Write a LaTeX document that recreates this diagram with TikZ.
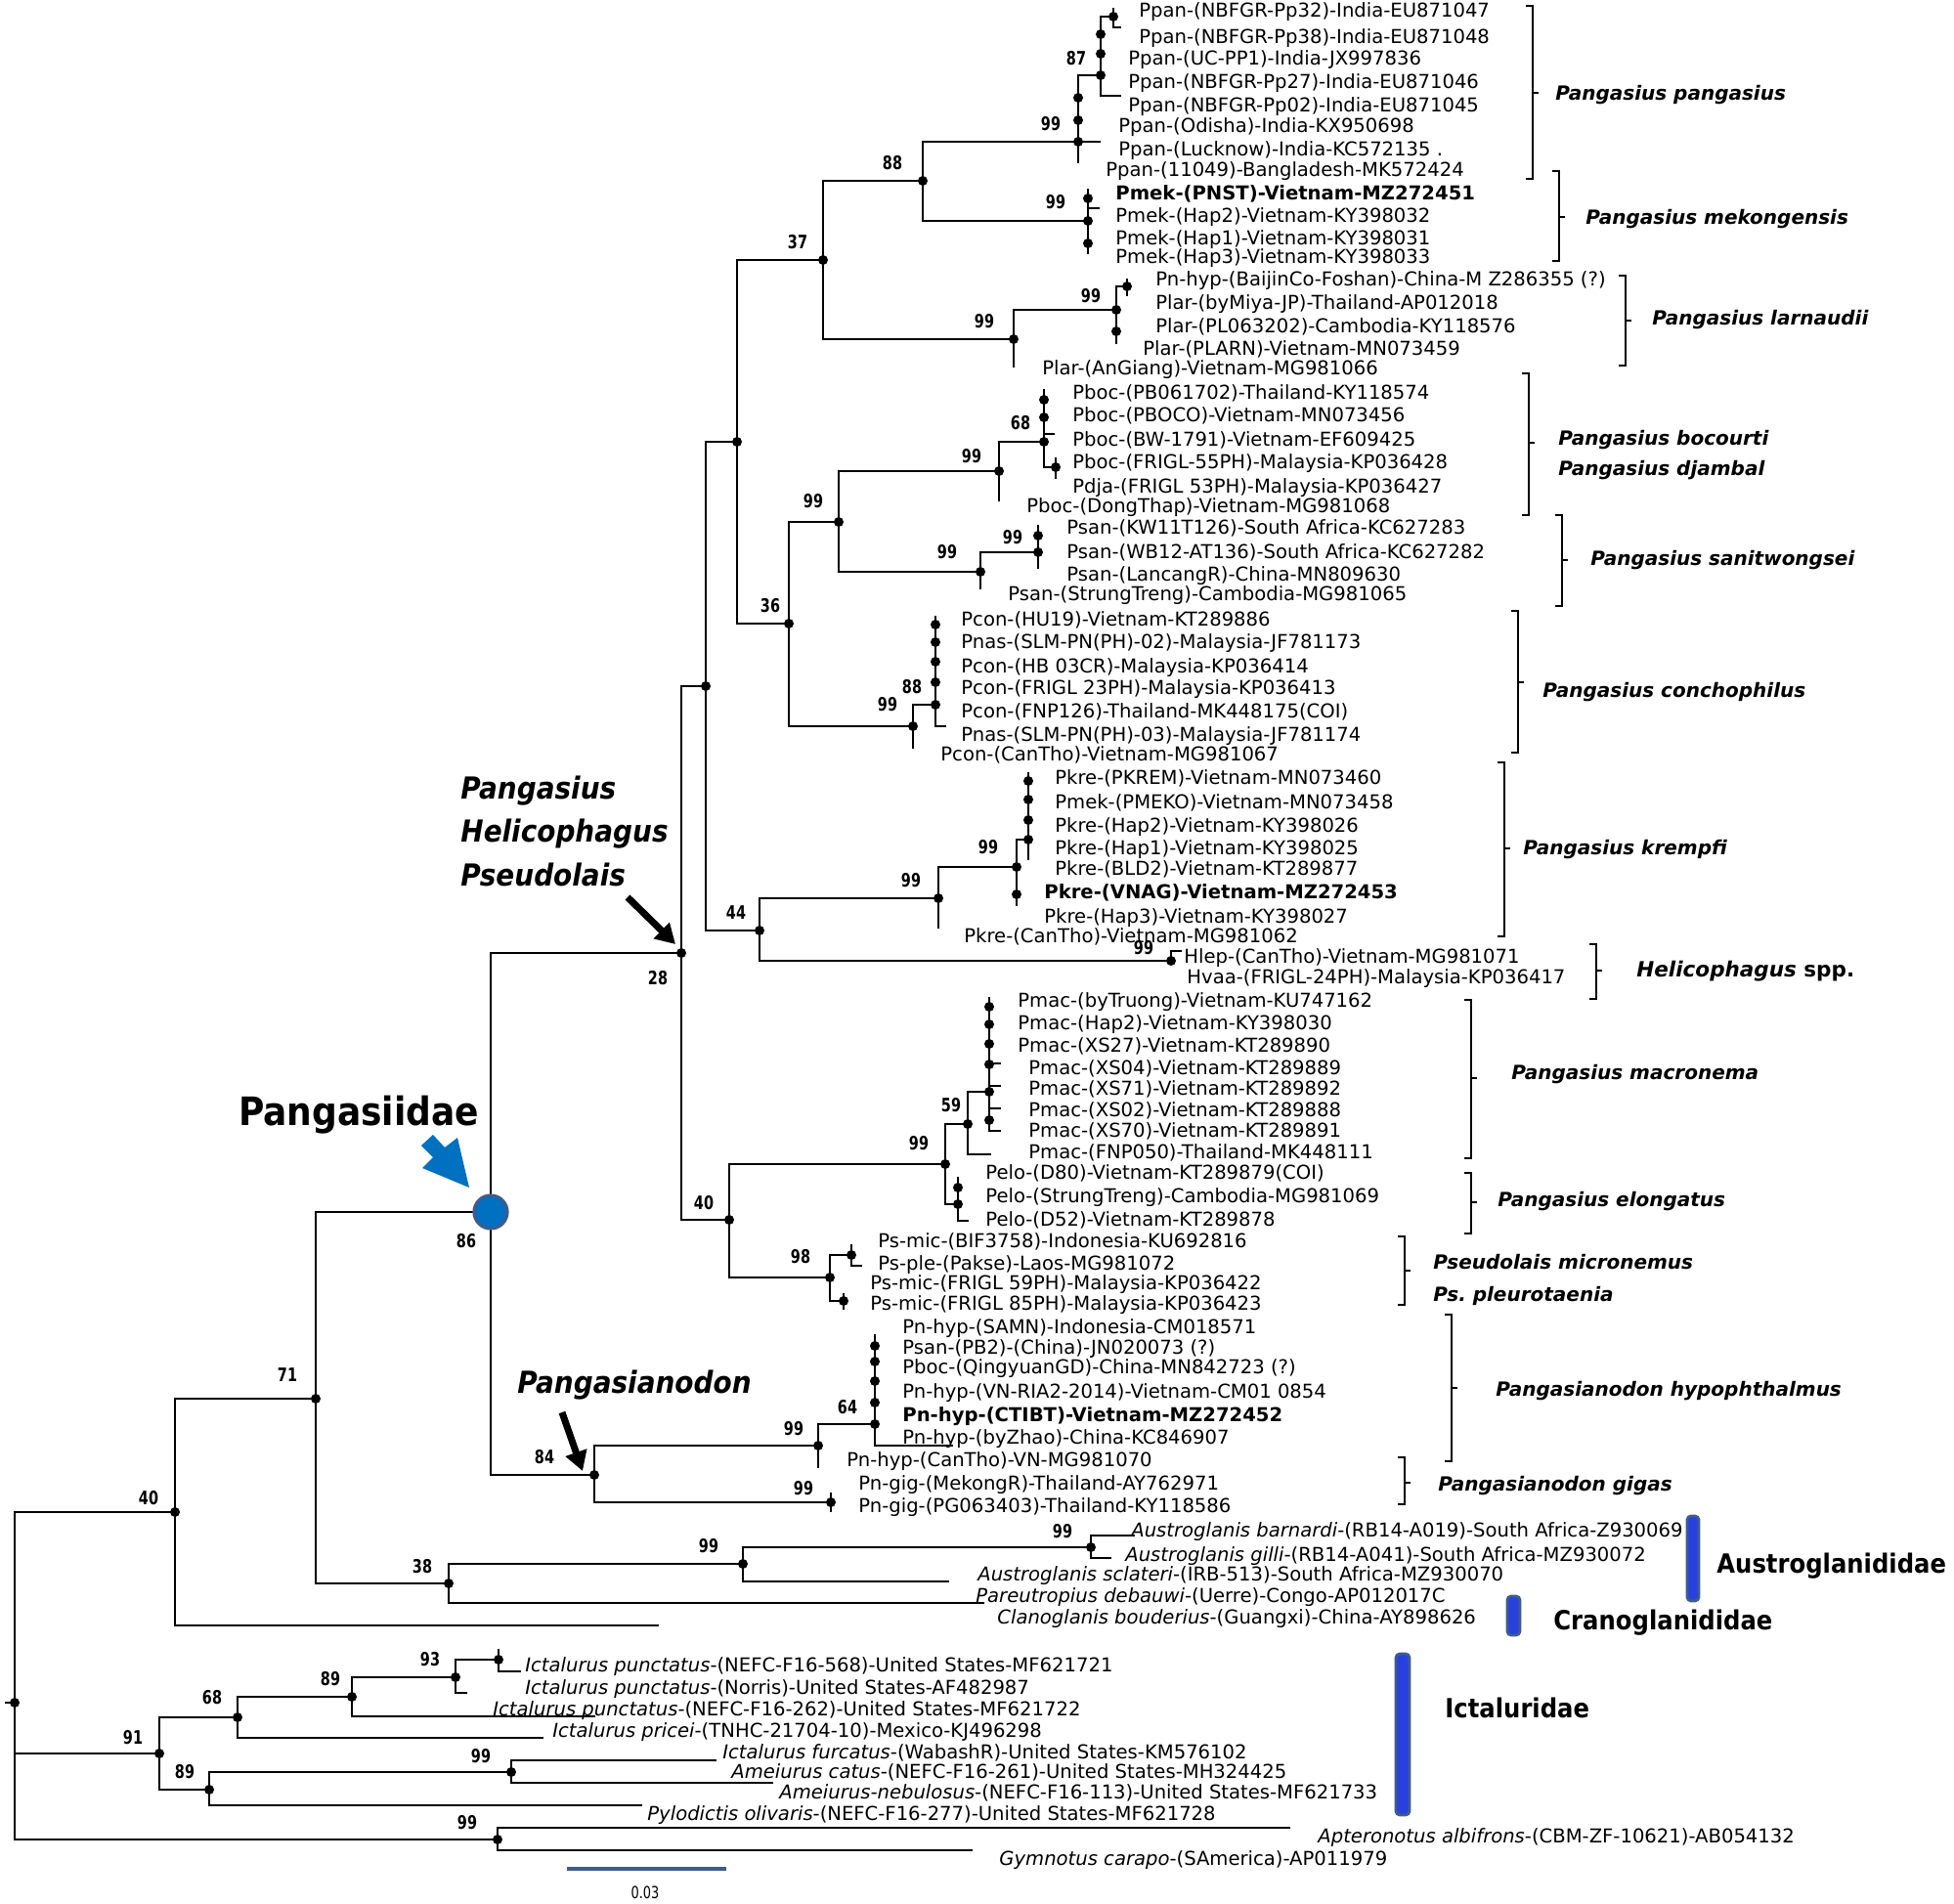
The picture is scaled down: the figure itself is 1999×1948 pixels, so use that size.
\documentclass[tikz,border=0pt]{standalone}
\usepackage{fontspec}
\setmainfont{DejaVu Sans}
\newfontfamily\bootfont[FakeStretch=0.76]{DejaVu Sans}
\newfontfamily\headfont[FakeStretch=0.9]{DejaVu Sans}
\usetikzlibrary{arrows.meta}

\definecolor{pangblue}{RGB}{0,112,192}
\definecolor{edgeblue}{RGB}{62,92,140}
\definecolor{barblue}{RGB}{40,64,224}

\newcommand{\grpbracket}[4]{% x, top, mid, bottom
  \draw[brk] (#1-7,#2) -- (#1,#2) -- (#1,#4) -- (#1-7,#4);
  \draw[brk] (#1,#3) -- (#1+6,#3);}

\begin{document}
\begin{tikzpicture}[x=0.5pt,y=-0.5pt,
    branch/.style={line width=1.35pt},
    dot/.style={circle,fill=black,inner sep=0pt,minimum size=5pt},
    pangnode/.style={circle,fill=pangblue,draw=edgeblue,line width=1.6pt,inner sep=0pt,minimum size=17pt},
    boot/.style={inner sep=0pt,font=\bootfont\bfseries\fontsize{9.5}{10}\selectfont,text height=6.9pt,text depth=0pt},
    tip/.style={anchor=west,inner sep=0pt,font=\fontsize{9.8}{11}\selectfont,text height=7.1pt,text depth=0pt},
    grp/.style={anchor=west,inner sep=0pt,font=\bfseries\itshape\fontsize{10}{12}\selectfont,text height=7.3pt,text depth=0pt},
    head/.style={anchor=west,inner sep=0pt,font=\headfont\bfseries\itshape\fontsize{15.5}{18}\selectfont,text height=11.3pt,text depth=0pt},
    fam/.style={anchor=west,inner sep=0pt,font=\headfont\bfseries\fontsize{13.5}{15}\selectfont,text height=9.8pt,text depth=0pt},
    brk/.style={line width=1.4pt},
    fambar/.style={draw=edgeblue,fill=barblue,line width=1.4pt,rounded corners=2pt},
    pointer/.style={line width=3.5pt,-{Triangle[length=10pt,width=11pt]}}
]
\useasboundingbox (0,0) rectangle (1999,1948);

% root and outgroups
\node[dot] (root) at (15,1742) {};
\coordinate (rootstub) at (5,1742);
\node[dot] (n40a) at (179,1547) {};
\node[dot] (n91) at (163,1794) {};
\node[dot] (n99g) at (509,1882) {};
\draw[branch] (rootstub) -- (root.center);
\draw[branch] (root.center) |- (n40a.center);
\draw[branch] (root.center) |- (n91.center);
\draw[branch] (root.center) |- (n99g.center);

\node[dot] (n71) at (323,1431) {};
\coordinate (e73) at (674,1663);
\draw[branch] (n40a.center) |- (n71.center);
\draw[branch] (n40a.center) |- (e73);
\coordinate (pang) at (502,1240);
\node[dot] (n38) at (459,1620) {};
\draw[branch] (n71.center) |- (pang);
\draw[branch] (n71.center) |- (n38.center);
\node[dot] (n99au) at (760,1600) {};
\coordinate (e72) at (1007,1640);
\draw[branch] (n38.center) |- (n99au.center);
\draw[branch] (n38.center) |- (e72);
\node[dot] (n99ab) at (1116,1583) {};
\coordinate (e71) at (971,1618);
\draw[branch] (n99au.center) |- (n99ab.center);
\draw[branch] (n99au.center) |- (e71);
\coordinate (e69) at (1161,1571);
\coordinate (e70) at (1137,1594);
\draw[branch] (n99ab.center) |- (e69);
\draw[branch] (n99ab.center) |- (e70);

% Ictaluridae
\node[dot] (n68a) at (243,1757) {};
\node[dot] (n89b) at (214,1831) {};
\draw[branch] (n91.center) |- (n68a.center);
\draw[branch] (n91.center) |- (n89b.center);
\node[dot] (n89a) at (360,1736) {};
\coordinate (e77) at (556,1778);
\draw[branch] (n68a.center) |- (n89a.center);
\draw[branch] (n68a.center) |- (e77);
\node[dot] (n93) at (466,1716) {};
\coordinate (e76) at (609,1756);
\draw[branch] (n89a.center) |- (n93.center);
\draw[branch] (n89a.center) |- (e76);
\node[dot] (n93a) at (510,1698) {};
\coordinate (e75) at (478,1732);
\draw[branch] (n93.center) |- (n93a.center);
\draw[branch] (n93.center) |- (e75);
\coordinate (e74u) at (510,1687);
\coordinate (e74) at (533,1710);
\draw[branch] (e74u) -- (n93a.center) |- (e74);
\node[dot] (n99c) at (523,1813) {};
\coordinate (e81) at (657,1847);
\draw[branch] (n89b.center) |- (n99c.center);
\draw[branch] (n89b.center) |- (e81);
\coordinate (e78) at (733,1801);
\coordinate (e79) at (791,1824);
\draw[branch] (n99c.center) |- (e78);
\draw[branch] (n99c.center) |- (e79);
\coordinate (e82) at (1320,1870);
\coordinate (e83) at (995,1893);
\draw[branch] (n99g.center) |- (e82);
\draw[branch] (n99g.center) |- (e83);

% Pangasiidae
\node[dot] (n28) at (697,975) {};
\node[dot] (n84) at (608,1509) {};
\draw[branch] (pang) |- (n28.center);
\draw[branch] (pang) |- (n84.center);
\node[dot] (nX) at (722,702) {};
\node[dot] (n40b) at (746,1248) {};
\draw[branch] (n28.center) |- (nX.center);
\draw[branch] (n28.center) |- (n40b.center);
\node[dot] (nY) at (754,452) {};
\node[dot] (n44) at (777,952) {};
\draw[branch] (nX.center) |- (nY.center);
\draw[branch] (nX.center) |- (n44.center);
\node[dot] (n37) at (842,266) {};
\node[dot] (n36) at (807,638) {};
\draw[branch] (nY.center) |- (n37.center);
\draw[branch] (nY.center) |- (n36.center);
\node[dot] (n88a) at (944,185) {};
\node[dot] (n99pl) at (1037,347) {};
\draw[branch] (n37.center) |- (n88a.center);
\draw[branch] (n37.center) |- (n99pl.center);
\node[dot] (n99pp) at (1103,145) {};
\node[dot] (n99mk) at (1113,226) {};
\draw[branch] (n88a.center) |- (n99pp.center);
\draw[branch] (n88a.center) |- (n99mk.center);

% P. pangasius
\node[dot] (n87) at (1126,77) {};
\coordinate (e06) at (1126,145);
\coordinate (e08) at (1103,167);
\draw[branch] (n99pp.center) |- (n87.center);
\draw[branch] (n99pp.center) -- (e06);
\draw[branch] (n99pp.center) -- (e08);
\foreach \y in {100,123} \node[dot] (pp\y) at (1103,\y) {};
\coordinate (p87t) at (1126,18);
\coordinate (e05) at (1147,98);
\node[dot] (nP1) at (1139,17) {};
\draw[branch] (n87.center) |- (e05);
\draw[branch] (n87.center) |- (nP1.center);
\draw[branch] (1139,8) -- (nP1.center) |- (1147,28);
\foreach \y in {35,55} \node[dot] (pa\y) at (1126,\y) {};

% P. mekongensis
\draw[branch] (1113,193) -- (n99mk.center) -- (1113,260);
\draw[branch] (1113,213) -- (1125,213);
\foreach \y in {203,249} \node[dot] (mk\y) at (1113,\y) {};

% P. larnaudii
\node[dot] (n99pl2) at (1142,317) {};
\coordinate (e17) at (1037,376);
\draw[branch] (n99pl.center) |- (n99pl2.center);
\draw[branch] (n99pl.center) -- (e17);
\node[dot] (nLa) at (1153,293) {};
\draw[branch] (1142,352) -- (n99pl2.center) |- (nLa.center);
\draw[branch] (1153,285) -- (1153,303);
\node[dot] (la339) at (1142,339) {};

% P. bocourti, P. sanitwongsei, P. conchophilus
\node[dot] (n99bs) at (858,534) {};
\node[dot] (n99co) at (934,743) {};
\draw[branch] (n36.center) |- (n99bs.center);
\draw[branch] (n36.center) |- (n99co.center);
\node[dot] (n99bo) at (1022,482) {};
\node[dot] (n99sa) at (1003,585) {};
\draw[branch] (n99bs.center) |- (n99bo.center);
\draw[branch] (n99bs.center) |- (n99sa.center);
\node[dot] (n68b) at (1068,452) {};
\coordinate (e23) at (1022,513);
\draw[branch] (n99bo.center) |- (n68b.center);
\draw[branch] (n99bo.center) -- (e23);
\node[dot] (nBo) at (1080,478) {};
\draw[branch] (1068,398) -- (n68b.center) |- (nBo.center);
\draw[branch] (1068,444) -- (1079,444);
\draw[branch] (1080,468) -- (1080,490);
\foreach \y in {409,427} \node[dot] (bo\y) at (1068,\y) {};
\node[dot] (n99sa2) at (1062,565) {};
\coordinate (e27) at (1003,603);
\draw[branch] (n99sa.center) |- (n99sa2.center);
\draw[branch] (n99sa.center) -- (e27);
\draw[branch] (1062,537) -- (1062,582);
\node[dot] (sa548) at (1062,548) {};
\node[dot] (n88c) at (957,721) {};
\coordinate (e34) at (934,766);
\draw[branch] (n99co.center) |- (n88c.center);
\draw[branch] (n99co.center) -- (e34);
\draw[branch] (957,630) -- (957,743) -- (968,743);
\foreach \y in {639,657,677,698} \node[dot] (co\y) at (957,\y) {};

% P. krempfi and Helicophagus
\node[dot] (n99k) at (960,919) {};
\node[dot] (n99h) at (1198,983) {};
\draw[branch] (n44.center) |- (n99k.center);
\draw[branch] (n44.center) |- (n99h.center);
\draw[branch] (n99h.center) |- (1209,973);
\node[dot] (n99k2) at (1040,887) {};
\coordinate (e42) at (960,950);
\draw[branch] (n99k.center) |- (n99k2.center);
\draw[branch] (n99k.center) -- (e42);
\node[dot] (nKr) at (1052,859) {};
\draw[branch] (1040,927) -- (n99k2.center) |- (nKr.center);
\draw[branch] (1052,790) -- (1052,880);
\node[dot] (kr915) at (1040,915) {};
\foreach \y in {799,818,839} \node[dot] (kr\y) at (1052,\y) {};

% P. macronema, P. elongatus, Pseudolais
\node[dot] (n99m) at (967,1191) {};
\node[dot] (n98) at (849,1307) {};
\draw[branch] (n40b.center) |- (n99m.center);
\draw[branch] (n40b.center) |- (n98.center);
\node[dot] (n59) at (990,1150) {};
\node[dot] (nPe) at (980,1232) {};
\draw[branch] (n99m.center) |- (n59.center);
\draw[branch] (n99m.center) |- (nPe.center);
\node[dot] (nMa) at (1012,1117) {};
\coordinate (e52) at (1014,1181);
\draw[branch] (n59.center) |- (nMa.center);
\draw[branch] (n59.center) |- (e52);
\draw[branch] (1012,1020) -- (1012,1157) -- (1024,1157);
\foreach \y in {1088,1111,1134} \draw[branch] (1012,\y) -- (1024,\y);
\foreach \y in {1030,1048,1068,1089,1146} \node[dot] (ma\y) at (1012,\y) {};
\draw[branch] (980,1204) -- (nPe.center) |- (991,1249);
\node[dot] (pe1215) at (980,1215) {};
\node[dot] (nPs1) at (871,1284) {};
\node[dot] (nPs2) at (863,1331) {};
\draw[branch] (n98.center) |- (nPs1.center);
\draw[branch] (n98.center) |- (nPs2.center);
\draw[branch] (871,1273) -- (nPs1.center) |- (882,1295);
\draw[branch] (863,1323) -- (863,1340);

% Pangasianodon
\node[dot] (n99hy) at (837,1479) {};
\node[dot] (n99gi) at (850,1537) {};
\draw[branch] (n84.center) |- (n99hy.center);
\draw[branch] (n84.center) |- (n99gi.center);
\node[dot] (n64) at (895,1457) {};
\coordinate (e66) at (837,1502);
\draw[branch] (n99hy.center) |- (n64.center);
\draw[branch] (n99hy.center) -- (e66);
\draw[branch] (895,1365) -- (895,1479) -- (975,1479);
\foreach \y in {1377,1393,1413,1435} \node[dot] (hy\y) at (895,\y) {};
\draw[branch] (850,1527) -- (850,1547);

\node[pangnode] (pangc) at (pang) {};

% bootstrap values
\node[boot] (b01) at (152,1533) {40};
\node[boot] (b02) at (136,1778) {91};
\node[boot] (b03) at (478,1865) {99};
\node[boot] (b04) at (294,1407) {71};
\node[boot] (b05) at (477,1270) {86};
\node[boot] (b06) at (432,1603) {38};
\node[boot] (b07) at (725,1582) {99};
\node[boot] (b08) at (1087,1567) {99};
\node[boot] (b09) at (217,1737) {68};
\node[boot] (b10) at (189,1813) {89};
\node[boot] (b11) at (338,1718) {89};
\node[boot] (b12) at (440,1698) {93};
\node[boot] (b13) at (492,1797) {99};
\node[boot] (b14) at (673,1001) {28};
\node[boot] (b15) at (753,934) {44};
\node[boot] (b16) at (816,248) {37};
\node[boot] (b17) at (913,167) {88};
\node[boot] (b18) at (1075,127) {99};
\node[boot] (b19) at (1101,60) {87};
\node[boot] (b20) at (1080,207) {99};
\node[boot] (b21) at (1007,329) {99};
\node[boot] (b22) at (1116,303) {99};
\node[boot] (b23) at (788,620) {36};
\node[boot] (b24) at (832,513) {99};
\node[boot] (b25) at (994,467) {99};
\node[boot] (b26) at (1044,433) {68};
\node[boot] (b27) at (969,565) {99};
\node[boot] (b28) at (1036,550) {99};
\node[boot] (b29) at (908,721) {99};
\node[boot] (b30) at (933,703) {88};
\node[boot] (b31) at (932,901) {99};
\node[boot] (b32) at (1011,867) {99};
\node[boot] (b33) at (1170,970) {99};
\node[boot] (b34) at (720,1231) {40};
\node[boot] (b35) at (940,1170) {99};
\node[boot] (b36) at (973,1131) {59};
\node[boot] (b37) at (819,1286) {98};
\node[boot] (b38) at (557,1491) {84};
\node[boot] (b39) at (812,1462) {99};
\node[boot] (b40) at (867,1440) {64};
\node[boot] (b41) at (822,1523) {99};

% tip labels
\node[tip] (t01) at (1165,10) {Ppan-(NBFGR-Pp32)-India-EU871047};
\node[tip] (t02) at (1165,37) {Ppan-(NBFGR-Pp38)-India-EU871048};
\node[tip] (t03) at (1154,59) {Ppan-(UC-PP1)-India-JX997836};
\node[tip] (t04) at (1154,83) {Ppan-(NBFGR-Pp27)-India-EU871046};
\node[tip] (t05) at (1154,107) {Ppan-(NBFGR-Pp02)-India-EU871045};
\node[tip] (t06) at (1144,128) {Ppan-(Odisha)-India-KX950698};
\node[tip] (t07) at (1144,152) {Ppan-(Lucknow)-India-KC572135 .};
\node[tip] (t08) at (1131,173) {Ppan-(11049)-Bangladesh-MK572424};
\node[tip] (t09) at (1141,197) {\textbf{Pmek-(PNST)-Vietnam-MZ272451}};
\node[tip] (t10) at (1141,220) {Pmek-(Hap2)-Vietnam-KY398032};
\node[tip] (t11) at (1141,243) {Pmek-(Hap1)-Vietnam-KY398031};
\node[tip] (t12) at (1141,262) {Pmek-(Hap3)-Vietnam-KY398033};
\node[tip] (t13) at (1182,285) {Pn-hyp-(BaijinCo-Foshan)-China-M Z286355 (?)};
\node[tip] (t14) at (1182,309) {Plar-(byMiya-JP)-Thailand-AP012018};
\node[tip] (t15) at (1182,333) {Plar-(PL063202)-Cambodia-KY118576};
\node[tip] (t16) at (1169,356) {Plar-(PLARN)-Vietnam-MN073459};
\node[tip] (t17) at (1066,376) {Plar-(AnGiang)-Vietnam-MG981066};
\node[tip] (t18) at (1097,401) {Pboc-(PB061702)-Thailand-KY118574};
\node[tip] (t19) at (1097,424) {Pboc-(PBOCO)-Vietnam-MN073456};
\node[tip] (t20) at (1097,449) {Pboc-(BW-1791)-Vietnam-EF609425};
\node[tip] (t21) at (1097,472) {Pboc-(FRIGL-55PH)-Malaysia-KP036428};
\node[tip] (t22) at (1097,497) {Pdja-(FRIGL 53PH)-Malaysia-KP036427};
\node[tip] (t23) at (1050,517) {Pboc-(DongThap)-Vietnam-MG981068};
\node[tip] (t24) at (1091,539) {Psan-(KW11T126)-South Africa-KC627283};
\node[tip] (t25) at (1091,564) {Psan-(WB12-AT136)-South Africa-KC627282};
\node[tip] (t26) at (1091,587) {Psan-(LancangR)-China-MN809630};
\node[tip] (t27) at (1031,607) {Psan-(StrungTreng)-Cambodia-MG981065};
\node[tip] (t28) at (983,633) {Pcon-(HU19)-Vietnam-KT289886};
\node[tip] (t29) at (983,656) {Pnas-(SLM-PN(PH)-02)-Malaysia-JF781173};
\node[tip] (t30) at (983,681) {Pcon-(HB 03CR)-Malaysia-KP036414};
\node[tip] (t31) at (983,703) {Pcon-(FRIGL 23PH)-Malaysia-KP036413};
\node[tip] (t32) at (983,727) {Pcon-(FNP126)-Thailand-MK448175(COI)};
\node[tip] (t33) at (983,751) {Pnas-(SLM-PN(PH)-03)-Malaysia-JF781174};
\node[tip] (t34) at (962,771) {Pcon-(CanTho)-Vietnam-MG981067};
\node[tip] (t35) at (1079,795) {Pkre-(PKREM)-Vietnam-MN073460};
\node[tip] (t36) at (1079,820) {Pmek-(PMEKO)-Vietnam-MN073458};
\node[tip] (t37) at (1079,844) {Pkre-(Hap2)-Vietnam-KY398026};
\node[tip] (t38) at (1079,867) {Pkre-(Hap1)-Vietnam-KY398025};
\node[tip] (t39) at (1079,888) {Pkre-(BLD2)-Vietnam-KT289877};
\node[tip] (t40) at (1068,912) {\textbf{Pkre-(VNAG)-Vietnam-MZ272453}};
\node[tip] (t41) at (1068,937) {Pkre-(Hap3)-Vietnam-KY398027};
\node[tip] (t42) at (986,957) {Pkre-(CanTho)-Vietnam-MG981062};
\node[tip] (t43) at (1211,978) {Hlep-(CanTho)-Vietnam-MG981071};
\node[tip] (t44) at (1214,999) {Hvaa-(FRIGL-24PH)-Malaysia-KP036417};
\node[tip] (t45) at (1041,1023) {Pmac-(byTruong)-Vietnam-KU747162};
\node[tip] (t46) at (1041,1046) {Pmac-(Hap2)-Vietnam-KY398030};
\node[tip] (t47) at (1041,1069) {Pmac-(XS27)-Vietnam-KT289890};
\node[tip] (t48) at (1052,1092) {Pmac-(XS04)-Vietnam-KT289889};
\node[tip] (t49) at (1052,1113) {Pmac-(XS71)-Vietnam-KT289892};
\node[tip] (t50) at (1052,1135) {Pmac-(XS02)-Vietnam-KT289888};
\node[tip] (t51) at (1052,1156) {Pmac-(XS70)-Vietnam-KT289891};
\node[tip] (t52) at (1052,1178) {Pmac-(FNP050)-Thailand-MK448111};
\node[tip] (t53) at (1008,1199) {Pelo-(D80)-Vietnam-KT289879(COI)};
\node[tip] (t54) at (1008,1223) {Pelo-(StrungTreng)-Cambodia-MG981069};
\node[tip] (t55) at (1008,1247) {Pelo-(D52)-Vietnam-KT289878};
\node[tip] (t56) at (898,1269) {Ps-mic-(BIF3758)-Indonesia-KU692816};
\node[tip] (t57) at (898,1292) {Ps-ple-(Pakse)-Laos-MG981072};
\node[tip] (t58) at (890,1312) {Ps-mic-(FRIGL 59PH)-Malaysia-KP036422};
\node[tip] (t59) at (890,1333) {Ps-mic-(FRIGL 85PH)-Malaysia-KP036423};
\node[tip] (t60) at (923,1357) {Pn-hyp-(SAMN)-Indonesia-CM018571};
\node[tip] (t61) at (923,1378) {Psan-(PB2)-(China)-JN020073 (?)};
\node[tip] (t62) at (923,1398) {Pboc-(QingyuanGD)-China-MN842723 (?)};
\node[tip] (t63) at (923,1423) {Pn-hyp-(VN-RIA2-2014)-Vietnam-CM01 0854};
\node[tip] (t64) at (923,1447) {\textbf{Pn-hyp-(CTIBT)-Vietnam-MZ272452}};
\node[tip] (t65) at (923,1470) {Pn-hyp-(byZhao)-China-KC846907};
\node[tip] (t66) at (866,1493) {Pn-hyp-(CanTho)-VN-MG981070};
\node[tip] (t67) at (878,1517) {Pn-gig-(MekongR)-Thailand-AY762971};
\node[tip] (t68) at (878,1540) {Pn-gig-(PG063403)-Thailand-KY118586};
\node[tip] (t69) at (1157,1565) {\textit{Austroglanis barnardi}-(RB14-A019)-South Africa-Z930069};
\node[tip] (t70) at (1151,1590) {\textit{Austroglanis gilli}-(RB14-A041)-South Africa-MZ930072};
\node[tip] (t71) at (1000,1610) {\textit{Austroglanis sclateri}-(IRB-513)-South Africa-MZ930070};
\node[tip] (t72) at (998,1632) {\textit{Pareutropius debauwi}-(Uerre)-Congo-AP012017C};
\node[tip] (t73) at (1020,1654) {\textit{Clanoglanis bouderius}-(Guangxi)-China-AY898626};
\node[tip] (t74) at (537,1703) {\textit{Ictalurus punctatus}-(NEFC-F16-568)-United States-MF621721};
\node[tip] (t75) at (537,1726) {\textit{Ictalurus punctatus}-(Norris)-United States-AF482987};
\node[tip] (t76) at (504,1748) {\textit{Ictalurus punctatus}-(NEFC-F16-262)-United States-MF621722};
\node[tip] (t77) at (565,1770) {\textit{Ictalurus pricei}-(TNHC-21704-10)-Mexico-KJ496298};
\node[tip] (t78) at (739,1792) {\textit{Ictalurus furcatus}-(WabashR)-United States-KM576102};
\node[tip] (t79) at (748,1812) {\textit{Ameiurus catus}-(NEFC-F16-261)-United States-MH324425};
\node[tip] (t80) at (797,1833) {\textit{Ameiurus-nebulosus}-(NEFC-F16-113)-United States-MF621733};
\node[tip] (t81) at (662,1855) {\textit{Pylodictis olivaris}-(NEFC-F16-277)-United States-MF621728};
\node[tip] (t82) at (1348,1878) {\textit{Apteronotus albifrons}-(CBM-ZF-10621)-AB054132};
\node[tip] (t83) at (1022,1901) {\textit{Gymnotus carapo}-(SAmerica)-AP011979};

% species groups
\grpbracket{1568}{6}{95}{183}
\grpbracket{1595}{175}{222}{267}
\grpbracket{1663}{282}{328}{374}
\grpbracket{1564}{382}{453}{527}
\grpbracket{1598}{527}{573}{620}
\grpbracket{1553}{625}{698}{770}
\grpbracket{1539}{780}{868}{958}
\grpbracket{1633}{966}{993}{1022}
\grpbracket{1505}{1023}{1103}{1185}
\grpbracket{1505}{1200}{1230}{1262}
\grpbracket{1437}{1265}{1300}{1335}
\grpbracket{1485}{1345}{1420}{1495}
\grpbracket{1437}{1491}{1517}{1539}
\node[grp] (gPan) at (1591,95) {Pangasius pangasius};
\node[grp] (gMek) at (1622,222) {Pangasius mekongensis};
\node[grp] (gLar) at (1690,325) {Pangasius larnaudii};
\node[grp] (gBoc) at (1594,448) {Pangasius bocourti};
\node[grp] (gDja) at (1594,479) {Pangasius djambal};
\node[grp] (gSan) at (1627,571) {Pangasius sanitwongsei};
\node[grp] (gCon) at (1578,706) {Pangasius conchophilus};
\node[grp] (gKre) at (1558,867) {Pangasius krempfi};
\node[grp,font=\bfseries\itshape\fontsize{10.75}{12}\selectfont,text height=7.8pt] (gHel) at (1674,992) {Helicophagus \textup{spp.}};
\node[grp] (gMac) at (1546,1097) {Pangasius macronema};
\node[grp] (gElo) at (1532,1227) {Pangasius elongatus};
\node[grp] (gPsm) at (1466,1291) {Pseudolais micronemus};
\node[grp] (gPsp) at (1466,1324) {Ps.\ pleurotaenia};
\node[grp] (gHyp) at (1530,1421) {Pangasianodon hypophthalmus};
\node[grp] (gGig) at (1471,1518) {Pangasianodon gigas};

% families
\draw[fambar] (1726,1551) rectangle (1738,1638);
\draw[fambar] (1542,1633) rectangle (1555,1673);
\draw[fambar] (1428,1692) rectangle (1442,1857);
\node[fam] (fAus) at (1756,1600) {Austroglanididae};
\node[fam] (fCra) at (1589,1658) {Cranoglanididae};
\node[fam] (fIct) at (1478,1748) {Ictaluridae};

% clade pointers
\node[head] (hPan) at (471,806) {Pangasius};
\node[head] (hHel) at (471,850) {Helicophagus};
\node[head] (hPse) at (471,895) {Pseudolais};
\coordinate (aPse) at (642,918);
\coordinate (aPseTip) at (691,966);
\draw[pointer] (aPse) -- (aPseTip);
\node[head] (hPno) at (529,1414) {Pangasianodon};
\coordinate (aPno) at (575,1445);
\coordinate (aPnoTip) at (596,1505);
\draw[pointer] (aPno) -- (aPnoTip);
\node[anchor=center,inner sep=0pt,font=\headfont\bfseries\fontsize{20}{24}\selectfont,text height=14.6pt,text depth=0pt] (hFam) at (367,1137) {Pangasiidae};
\fill[pangblue] (443,1161) -- (431,1172) -- (443,1184) -- (432,1195) -- (480,1215) -- (468,1164) -- (455,1174) -- cycle;

% scale
\coordinate (sL) at (580,1912);
\coordinate (sR) at (743,1912);
\draw[line width=1.8pt,edgeblue] (sL) -- (sR);
\node[inner sep=0pt,font=\bootfont\fontsize{8.5}{9}\selectfont] (sLab) at (660,1936) {0.03};
\end{tikzpicture}
\end{document}
